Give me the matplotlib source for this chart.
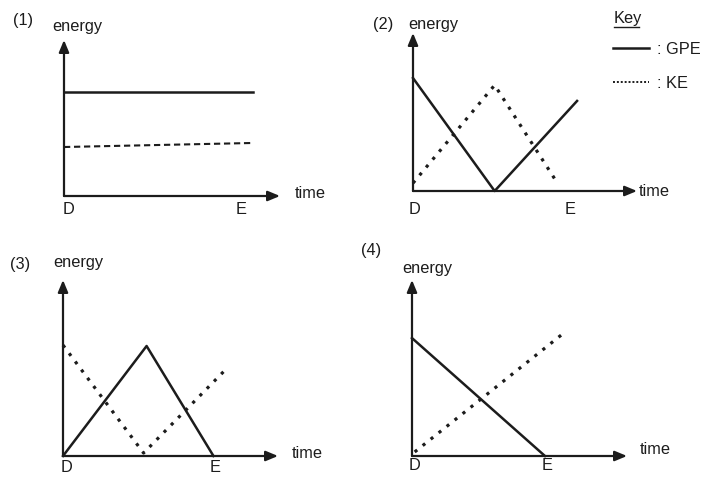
import matplotlib.pyplot as plt
from matplotlib.lines import Line2D

plt.rcParams['font.family'] = ['Liberation Sans', 'DejaVu Sans']

W, H = 727, 492
INK = '#1c1c1c'

# time: D = 0, E = 1 ; energy: full height of the energy axis = 10
gpe1_t = [0, 1.07]
gpe1_e = [6.67, 6.67]
ke1_t = [0, 1.07]
ke1_e = [3.14, 3.4]

gpe2_t = [0, 0.52, 1.045]
gpe2_e = [7.15, 0, 5.7]
ke2_t = [0, 0.52, 0.92]
ke2_e = [0.5, 6.7, 0.5]

gpe3_t = [0, 0.55, 0.99]
gpe3_e = [0, 6.25, 0]
ke3_t = [0, 0.53, 1.08]
ke3_e = [6.3, 0.17, 5.0]

gpe4_t = [0, 0.985]
gpe4_e = [6.7, 0]
ke4_t = [0.02, 1.11]
ke4_e = [0.23, 6.9]

panel_labels = ['(1)', '(2)', '(3)', '(4)']
key_labels = [': GPE', ': KE']

# pixel frame of each panel: origin x, origin y, x of E, arrow tip x, arrow top y
frames = [(64, 196, 241, 280, 40),
          (413, 191, 570, 637, 33),
          (63, 456, 215, 278, 280),
          (412, 456, 547, 627, 280)]

# text spots (pixels): panel label, energy, time, D, E
label_pos = [(13, 20), (373, 24), (10, 265), (361, 250)]
energy_pos = [(52, 27), (408, 25), (53, 263), (402, 268)]
time_pos = [(295, 193), (639, 191), (292, 453), (640, 450)]
d_pos = [(68, 209), (415, 209), (66, 468), (415, 466)]
e_pos = [(241, 209), (570, 209), (215, 468), (547, 466)]

FS = 11.8


def fx(x):
    return x / W


def fy(y):
    return 1 - y / H


def make_panel(fig, frame):
    ox, oy, ex, tip, top = frame
    ax = fig.add_axes([fx(ox), fy(oy), (tip - ox) / W, (oy - top) / H])
    ax.set_xlim(0, (tip - ox) / (ex - ox))
    ax.set_ylim(0, 10)
    ax.axis('off')
    arrow = dict(arrowstyle='-|>,head_length=0.6,head_width=0.25', lw=1.6,
                 color=INK, mutation_scale=12, shrinkA=0, shrinkB=0)
    ax.annotate('', xy=(1, 0), xytext=(0, 0), xycoords='axes fraction', arrowprops=arrow)
    ax.annotate('', xy=(0, 1), xytext=(0, 0), xycoords='axes fraction', arrowprops=arrow)
    return ax


fig = plt.figure(figsize=(W / 100, H / 100), dpi=100)
fig.patch.set_facecolor('white')

axes = [make_panel(fig, f) for f in frames]

dotted = (0, (1, 2.2))
dashed = (0, (3, 1.8))
LW = 1.8

axes[0].plot(gpe1_t, gpe1_e, color=INK, lw=LW, clip_on=False)
axes[0].plot(ke1_t, ke1_e, color=INK, lw=1.5, ls=dashed, clip_on=False)

gpe_line, = axes[1].plot(gpe2_t, gpe2_e, color=INK, lw=LW, clip_on=False)
axes[1].plot(ke2_t, ke2_e, color=INK, lw=2.3, ls=dotted, clip_on=False)

axes[2].plot(gpe3_t, gpe3_e, color=INK, lw=LW, clip_on=False)
axes[2].plot(ke3_t, ke3_e, color=INK, lw=2.3, ls=dotted, clip_on=False)

axes[3].plot(gpe4_t, gpe4_e, color=INK, lw=LW, clip_on=False)
axes[3].plot(ke4_t, ke4_e, color=INK, lw=2.3, ls=dotted, clip_on=False)

for i in range(4):
    fig.text(fx(label_pos[i][0]), fy(label_pos[i][1]), panel_labels[i],
             fontsize=FS, color=INK, ha='left', va='center')
    fig.text(fx(energy_pos[i][0]), fy(energy_pos[i][1]), 'energy',
             fontsize=FS, color=INK, ha='left', va='center')
    fig.text(fx(time_pos[i][0]), fy(time_pos[i][1]), 'time',
             fontsize=FS, color=INK, ha='left', va='center')
    fig.text(fx(d_pos[i][0]), fy(d_pos[i][1]), 'D',
             fontsize=FS, color=INK, ha='center', va='center')
    fig.text(fx(e_pos[i][0]), fy(e_pos[i][1]), 'E',
             fontsize=FS, color=INK, ha='center', va='center')

# key
ke_key = Line2D([], [], color=INK, lw=1.4, ls=(0, (1, 1)))
fig.text(fx(614), fy(18), 'Key', fontsize=FS, color=INK, ha='left', va='center')
fig.add_artist(Line2D([fx(614), fx(639)], [fy(27), fy(27)], color=INK, lw=1))
fig.legend(handles=[gpe_line, ke_key], labels=key_labels, loc='upper left',
           bbox_to_anchor=(fx(613), fy(42)), frameon=False, borderpad=0,
           borderaxespad=0, handlelength=2.2, handletextpad=0.5,
           labelspacing=1.15, fontsize=FS, labelcolor=INK)

fig.savefig('out.png', dpi=100, facecolor='white')
